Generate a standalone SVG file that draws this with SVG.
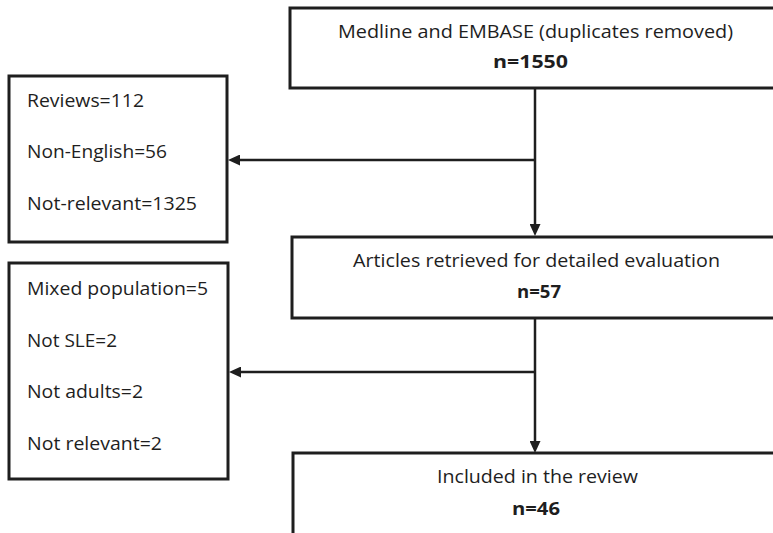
<svg xmlns="http://www.w3.org/2000/svg" width="773" height="533" viewBox="0 0 773 533">
  <style>
    .box { fill: #ffffff; stroke: #1e1e1e; stroke-width: 3; }
    .edge { fill: none; stroke: #1e1e1e; stroke-width: 2.5; }
    text { font-family: "Open Sans", "Liberation Sans", Arial, sans-serif; font-size: 18px; fill: #1e1e1e; }
    .b { font-weight: bold; }
  </style>
  <defs>
    <marker id="arr" markerUnits="userSpaceOnUse" markerWidth="12" markerHeight="11" refX="6" refY="5.5" orient="auto">
      <path d="M0,0 L12,5.5 L0,11 Z" fill="#1e1e1e"/>
    </marker>
  </defs>
  <rect x="0" y="0" width="773" height="533" fill="#ffffff"/>

  <g id="connectors">
    <path class="edge" d="M535,88 L535,230" marker-end="url(#arr)"/>
    <path class="edge" d="M535,160 L234,160" marker-end="url(#arr)"/>
    <path class="edge" d="M535,307 L535,447" marker-end="url(#arr)"/>
    <path class="edge" d="M535,372 L235,372" marker-end="url(#arr)"/>
  </g>

  <g id="node-medline">
    <rect class="box" x="290" y="8" width="500" height="80"/>
    <text x="338" y="38" textLength="395" lengthAdjust="spacingAndGlyphs">Medline and EMBASE (duplicates removed)</text>
    <text class="b" x="493" y="68" textLength="75" lengthAdjust="spacingAndGlyphs">n=1550</text>
  </g>

  <g id="node-excluded1">
    <rect class="box" x="9" y="76" width="218" height="166"/>
    <text x="27" y="107" textLength="117" lengthAdjust="spacingAndGlyphs">Reviews=112</text>
    <text x="27" y="158" textLength="140" lengthAdjust="spacingAndGlyphs">Non-English=56</text>
    <text x="27" y="210" textLength="170" lengthAdjust="spacingAndGlyphs">Not-relevant=1325</text>
  </g>

  <g id="node-articles">
    <rect class="box" x="292" y="237" width="500" height="81"/>
    <text x="353" y="267" textLength="367" lengthAdjust="spacingAndGlyphs">Articles retrieved for detailed evaluation</text>
    <text class="b" x="517" y="298" textLength="44" lengthAdjust="spacingAndGlyphs">n=57</text>
  </g>

  <g id="node-excluded2">
    <rect class="box" x="9" y="263" width="219" height="216"/>
    <text x="27" y="295" textLength="181" lengthAdjust="spacingAndGlyphs">Mixed population=5</text>
    <text x="27" y="347" textLength="90" lengthAdjust="spacingAndGlyphs">Not SLE=2</text>
    <text x="27" y="398" textLength="116" lengthAdjust="spacingAndGlyphs">Not adults=2</text>
    <text x="27" y="450" textLength="135" lengthAdjust="spacingAndGlyphs">Not relevant=2</text>
  </g>

  <g id="node-included">
    <rect class="box" x="293" y="453" width="500" height="100"/>
    <text x="437" y="483" textLength="201" lengthAdjust="spacingAndGlyphs">Included in the review</text>
    <text class="b" x="512" y="515" textLength="48" lengthAdjust="spacingAndGlyphs">n=46</text>
  </g>
</svg>
